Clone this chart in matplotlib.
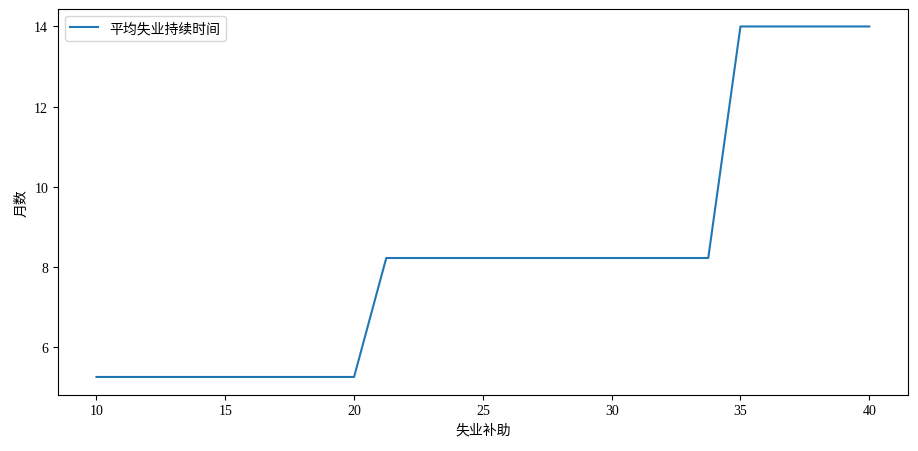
import matplotlib
matplotlib.use("Agg")
import matplotlib.pyplot as plt

plt.rcParams['font.family'] = ['Liberation Serif', 'Noto Sans CJK SC', 'DejaVu Sans']

benefit = [10.0, 11.25, 12.5, 13.75, 15.0, 16.25, 17.5, 18.75, 20.0, 21.25,
           22.5, 23.75, 25.0, 26.25, 27.5, 28.75, 30.0, 31.25, 32.5, 33.75,
           35.0, 36.25, 37.5, 38.75, 40.0]
duration = [5.25, 5.25, 5.25, 5.25, 5.25, 5.25, 5.25, 5.25, 5.25, 8.22,
            8.22, 8.22, 8.22, 8.22, 8.22, 8.22, 8.22, 8.22, 8.22, 8.22,
            14.0, 14.0, 14.0, 14.0, 14.0]
series_label = '平均失业持续时间'
xlabel = '失业补助'
ylabel = '月数'

fig, ax = plt.subplots(figsize=(9.18, 4.52), dpi=100)
ax.plot(benefit, duration, color='#1f77b4', label=series_label)
ax.set_xlabel(xlabel)
ax.set_ylabel(ylabel)
ax.legend(loc='upper left')
fig.subplots_adjust(left=0.063, right=0.989, top=0.978, bottom=0.125)
fig.savefig('out.png', dpi=100)
